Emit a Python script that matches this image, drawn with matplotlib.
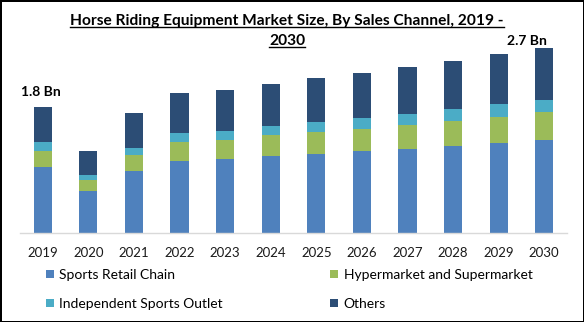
import matplotlib
matplotlib.use("Agg")
import matplotlib.pyplot as plt
from matplotlib.lines import Line2D
import numpy as np

years = ["2019", "2020", "2021", "2022", "2023", "2024",
         "2025", "2026", "2027", "2028", "2029", "2030"]
sports_retail = [0.94, 0.60, 0.88, 1.03, 1.05, 1.10, 1.13, 1.17, 1.20, 1.24, 1.28, 1.33]
hypermarket   = [0.23, 0.16, 0.23, 0.27, 0.28, 0.29, 0.31, 0.31, 0.34, 0.36, 0.37, 0.40]
independent   = [0.12, 0.06, 0.10, 0.12, 0.13, 0.14, 0.14, 0.16, 0.16, 0.17, 0.19, 0.17]
others        = [0.51, 0.35, 0.50, 0.57, 0.58, 0.60, 0.63, 0.64, 0.67, 0.68, 0.71, 0.74]
series_names = ["Sports Retail Chain", "Hypermarket and Supermarket",
                "Independent Sports Outlet", "Others"]
colors = ["#4F81BD", "#9BBB59", "#4BACC6", "#2C4D75"]
labels = {0: "1.8 Bn", 11: "2.7 Bn"}
title_lines = ["Horse Riding Equipment Market Size, By Sales Channel, 2019 -", "2030"]

FONT = "Lato"
fig = plt.figure(figsize=(5.84, 3.22), dpi=100)
ax = fig.add_axes([20/584, 89/322, 547/584, 193/322])

x = np.arange(len(years))
data = [sports_retail, hypermarket, independent, others]
bottom = np.zeros(len(years))
bars = []
for vals, col, name in zip(data, colors, series_names):
    b = ax.bar(x, vals, width=0.4, bottom=bottom, color=col, label=name)
    bars.append(b)
    bottom = bottom + np.array(vals)

ax.set_xlim(-0.5, 11.5)
ax.set_ylim(0, 2.75)
ax.set_yticks([])
for s in ["top", "left", "right"]:
    ax.spines[s].set_visible(False)
ax.spines["bottom"].set_color("#D9D9D9")
ax.spines["bottom"].set_linewidth(1)
ax.set_xticks(x)
ax.set_xticklabels(years, fontfamily=FONT, fontsize=9.5, color="#1a1a1a")
ax.tick_params(axis="x", length=0, pad=10)

ax.annotate(labels[0], xy=(0, bottom[0]), xytext=(-2, 9), textcoords="offset pixels",
            ha="center", va="bottom", fontfamily=FONT, fontweight="bold", fontsize=10)
ax.annotate(labels[11], xy=(11, bottom[11]), xytext=(-17, 1), textcoords="offset pixels",
            ha="center", va="bottom", fontfamily=FONT, fontweight="bold", fontsize=10)

handles = [bars[0], bars[2], bars[1], bars[3]]
names = [series_names[0], series_names[2], series_names[1], series_names[3]]
fig.legend(handles, names, ncol=2, loc="upper left", bbox_to_anchor=(46/584, 1 - 269/322),
           frameon=False, prop={"family": FONT, "size": 10},
           handlelength=0.55, handleheight=0.55, handletextpad=0.4,
           columnspacing=7.75, labelspacing=1.2, borderpad=0, borderaxespad=0)

t1 = fig.text(287/584, 1 - 21/322, title_lines[0], ha="center", va="center",
              fontfamily=FONT, fontweight="bold", fontsize=11.2)
t2 = fig.text(287/584, 1 - 41/322, title_lines[1], ha="center", va="center",
              fontfamily=FONT, fontweight="bold", fontsize=11.2)

fig.canvas.draw()
r = fig.canvas.get_renderer()
W, H = fig.bbox.width, fig.bbox.height
for t in (t1, t2):
    bb = t.get_window_extent(r)
    yline = bb.y0 + 1
    fig.add_artist(Line2D([bb.x0 / W, bb.x1 / W], [yline / H, yline / H],
                          transform=fig.transFigure, color="black", linewidth=1))

fig.patch.set_edgecolor("black")
fig.patch.set_linewidth(2)
fig.savefig("out.png", dpi=100)
